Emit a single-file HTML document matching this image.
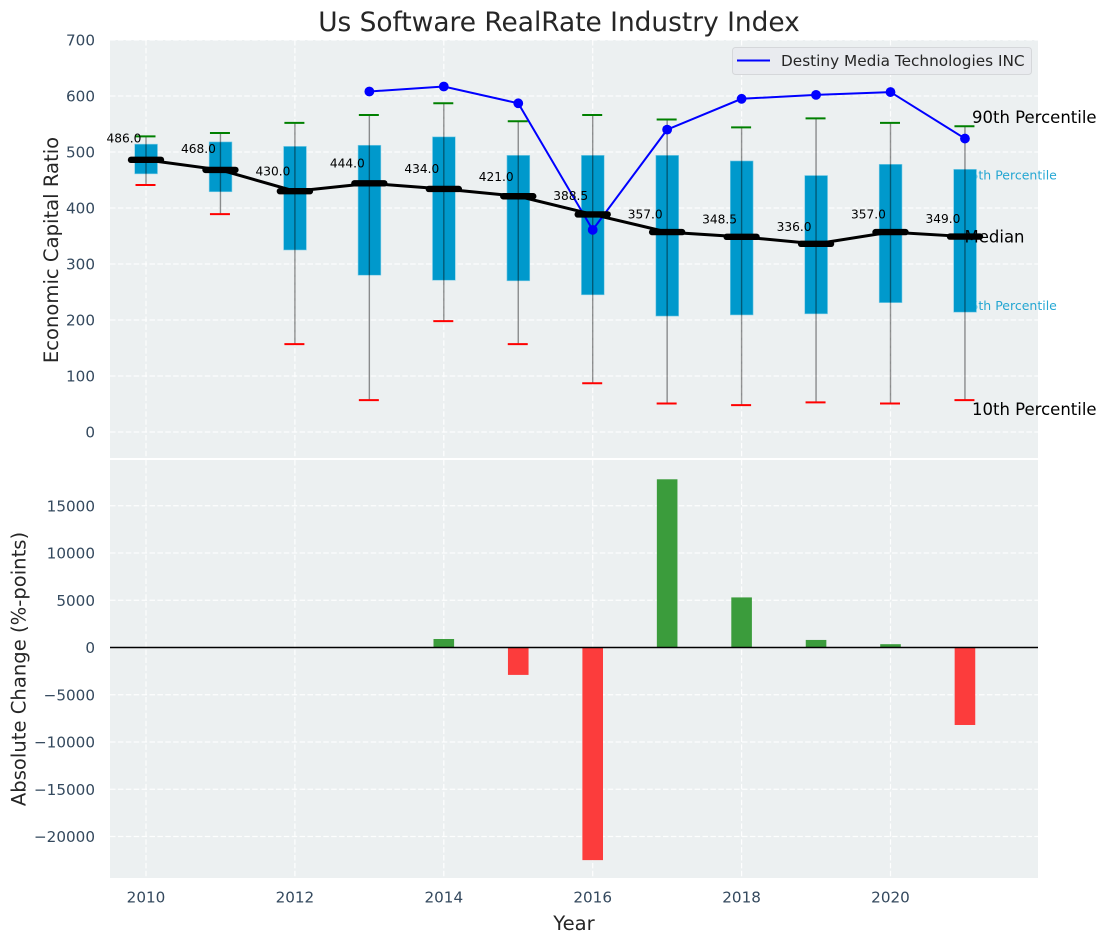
<!DOCTYPE html>
<html lang="en">
<head>
<meta charset="utf-8">
<title>Us Software RealRate Industry Index</title>
<style>
html,body{margin:0;padding:0;background:#fff;}
svg{display:block;font-family:"DejaVu Sans","Liberation Sans",sans-serif;}
</style>
</head>
<body>
<svg id="chart" xmlns="http://www.w3.org/2000/svg" width="1107" height="942" viewBox="0 0 1107 942"></svg>
<script>
const years = [2010,2011,2012,2013,2014,2015,2016,2017,2018,2019,2020,2021];
const p90 = [528,534,552,566,587,555,566,558,544,560,552,546];
const p75 = [514,518,510,512,527,494,494,494,484,458,478,469];
const medians = [486,468,430,444,434,421,388.5,357,348.5,336,357,349];
const medianLabels = ["486.0","468.0","430.0","444.0","434.0","421.0","388.5","357.0","348.5","336.0","357.0","349.0"];
const p25 = [461,429,325,280,271,270,245,207,209,211,231,214];
const p10 = [441,389,157,57,198,157,87,51,48,53,51,57];
const companyValues = [null,null,null,608,617,587,361,540,595,602,607,524];
const changes = [null,null,null,null,900,-2900,-22500,17800,5300,800,350,-8200];
const xTicks = [2010,2012,2014,2016,2018,2020];
const topTicks = [0,100,200,300,400,500,600,700];
const bottomTicks = [-20000,-15000,-10000,-5000,0,5000,10000,15000];

const svg = document.getElementById('chart');
const NS = 'http://www.w3.org/2000/svg';
function make(tag, attrs, text) {
  const el = document.createElementNS(NS, tag);
  for (const k in attrs) el.setAttribute(k, attrs[k]);
  if (text !== undefined) el.textContent = text;
  svg.appendChild(el);
  return el;
}
const xS = v => 146 + (v - 2010) * 74.45;
const yTop = v => 432 - v * 0.56;
const yBot = v => 647.5 - v * 0.00945;
const L = 110, R = 1038, T1 = 40, B1 = 458, T2 = 460, B2 = 878;
const tickCol = '#34495e', labCol = '#262626';
const tickFont = 15.2, axisFont = 19.6;

let el;
el = make('rect', {x:L, y:T1, width:R-L, height:B1-T1, fill:'#ecf0f1'});


el = make('rect', {x:L, y:T2, width:R-L, height:B2-T2, fill:'#ecf0f1'});



const gridStyle = {stroke:'#ffffff', 'stroke-width':1.2, 'stroke-dasharray':'5.5 2.4', 'stroke-opacity':0.9};
xTicks.forEach(t => {
  el = make('line', Object.assign({x1:xS(t), x2:xS(t), y1:T1, y2:B1}, gridStyle));
  
  
  el = make('line', Object.assign({x1:xS(t), x2:xS(t), y1:T2, y2:B2}, gridStyle));
  
  
  el = make('text', {x:xS(t), y:902.5, 'text-anchor':'middle', 'font-size':tickFont, fill:tickCol}, String(t));
  
  
});
topTicks.forEach(t => {
  el = make('line', Object.assign({x1:L, x2:R, y1:yTop(t), y2:yTop(t)}, gridStyle));
  
  
  el = make('text', {x:95, y:yTop(t)+5.5, 'text-anchor':'end', 'font-size':tickFont, fill:tickCol}, String(t));
  
  
});
bottomTicks.forEach(t => {
  el = make('line', Object.assign({x1:L, x2:R, y1:yBot(t), y2:yBot(t)}, gridStyle));
  
  
  el = make('text', {x:95, y:yBot(t)+5.5, 'text-anchor':'end', 'font-size':tickFont, fill:tickCol}, String(t).replace('-', '\u2212'));
  
  
});

// percentile text sits beneath the boxes
const lastI = years.length - 1;
el = make('text', {x:962.5, y:yTop(p75[lastI])+10, 'font-size':12.5, fill:'#0099cc', 'fill-opacity':0.85}, '75th Percentile');


el = make('text', {x:962.5, y:yTop(p25[lastI])-2, 'font-size':12.5, fill:'#0099cc', 'fill-opacity':0.85}, '25th Percentile');



// boxes
years.forEach((yr, i) => {
  el = make('rect', {x:xS(yr)-11.3, y:yTop(p75[i]), width:22.8, height:yTop(p25[i])-yTop(p75[i]), fill:'#0099cc', stroke:'#7fcde6', 'stroke-width':0.6});
  
  
});
// whiskers and caps
years.forEach((yr, i) => {
  el = make('line', {x1:xS(yr), x2:xS(yr), y1:yTop(p90[i]), y2:yTop(p10[i]), stroke:'#000', 'stroke-opacity':0.42, 'stroke-width':1.4});
  
  
  el = make('line', {x1:xS(yr)-10.5, x2:xS(yr)+9.5, y1:yTop(p90[i]), y2:yTop(p90[i]), stroke:'#008000', 'stroke-width':2});
  
  
  el = make('line', {x1:xS(yr)-10.5, x2:xS(yr)+9.5, y1:yTop(p10[i]), y2:yTop(p10[i]), stroke:'#ff0000', 'stroke-width':2});
  
  
});

// company line
let companyPts = [];
years.forEach((yr, i) => { if (companyValues[i] !== null) companyPts.push(xS(yr) + ',' + yTop(companyValues[i])); });
el = make('polyline', {points:companyPts.join(' '), fill:'none', stroke:'#0000ff', 'stroke-width':2});


years.forEach((yr, i) => {
  if (companyValues[i] === null) return;
  el = make('circle', {cx:xS(yr), cy:yTop(companyValues[i]), r:4.9, fill:'#0000ff'});
  
  
});

// median line
el = make('polyline', {points:years.map((yr, i) => xS(yr) + ',' + yTop(medians[i])).join(' '), fill:'none', stroke:'#000', 'stroke-width':3});


years.forEach((yr, i) => {
  el = make('line', {x1:xS(yr)-15, x2:xS(yr)+15, y1:yTop(medians[i]), y2:yTop(medians[i]), stroke:'#000', 'stroke-width':6.4, 'stroke-linecap':'round'});
  
  
  el = make('text', {x:xS(yr)-22, y:yTop(medians[i] * 1.05)-3.6, 'text-anchor':'middle', 'font-size':12.2, fill:'#000'}, medianLabels[i]);
  
  
});

// bars
years.forEach((yr, i) => {
  if (changes[i] === null) return;
  const y0 = yBot(0), y1 = yBot(changes[i]);
  el = make('rect', {x:xS(yr)-10.3, y:Math.min(y0,y1), width:20.6, height:Math.abs(y1-y0), fill:changes[i] >= 0 ? '#3b9c3c' : '#fc3c3c'});
  
  
});
el = make('line', {x1:L, x2:R, y1:yBot(0), y2:yBot(0), stroke:'#000', 'stroke-width':1.4});



// percentile annotations on top
el = make('text', {x:972, y:yTop(p90[lastI])-3, 'font-size':16.5, fill:'#000'}, '90th Percentile');


el = make('text', {x:964.5, y:yTop(medians[lastI])+6, 'font-size':16.5, fill:'#000'}, 'Median');


el = make('text', {x:972, y:yTop(p10[lastI])+15, 'font-size':16.5, fill:'#000'}, '10th Percentile');



// legend
el = make('rect', {x:732.5, y:47.5, width:299, height:27, rx:3, fill:'#e9ebef', stroke:'#d5d7da', 'stroke-width':1});


el = make('line', {x1:737, x2:770, y1:60.5, y2:60.5, stroke:'#0000ff', 'stroke-width':2});


el = make('text', {x:781, y:66, 'font-size':15.3, fill:labCol}, 'Destiny Media Technologies INC');



// titles
el = make('text', {x:559, y:31, 'text-anchor':'middle', 'font-size':26.4, fill:labCol}, 'Us Software RealRate Industry Index');


el = make('text', {x:574, y:930, 'text-anchor':'middle', 'font-size':axisFont, fill:labCol}, 'Year');


el = make('text', {transform:'translate(58,250) rotate(-90)', 'text-anchor':'middle', 'font-size':axisFont, fill:labCol}, 'Economic Capital Ratio');


el = make('text', {transform:'translate(25.5,669) rotate(-90)', 'text-anchor':'middle', 'font-size':axisFont, fill:labCol}, 'Absolute Change (%-points)');


</script>
</body>
</html>
